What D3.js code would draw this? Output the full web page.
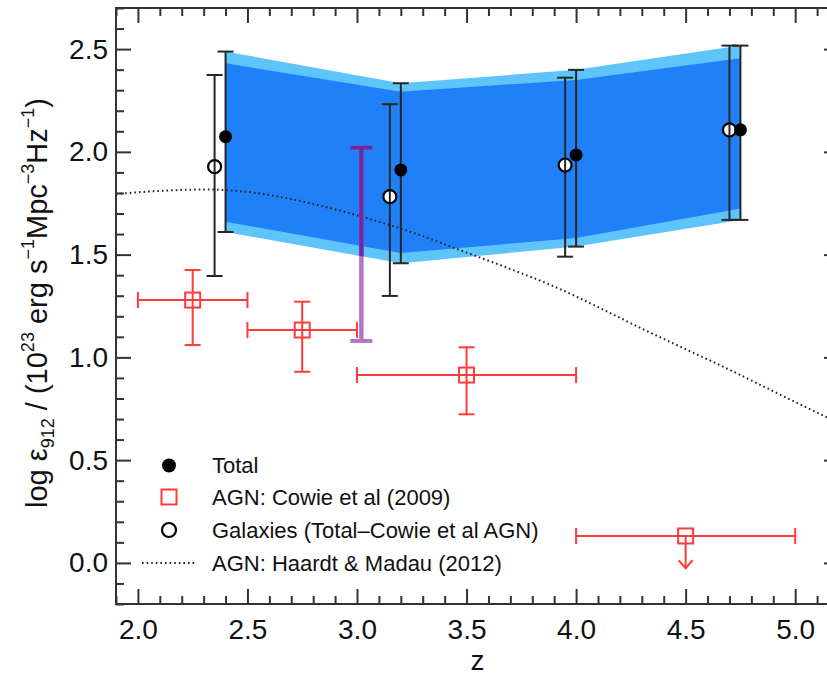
<!DOCTYPE html>
<html>
<head>
<meta charset="utf-8">
<script src="https://cdn.jsdelivr.net/npm/d3@7"></script>
<style>
  html, body { margin: 0; padding: 0; background: #fff; }
  svg { display: block; font-family: "Liberation Sans", Arial, Helvetica, sans-serif; }
</style>
</head>
<body>
<svg id="chart" width="827" height="675"></svg>
<script>
// ---------------- data ----------------
const xTickLabels = [2.0, 2.5, 3.0, 3.5, 4.0, 4.5, 5.0];
const yTickLabels = [0.0, 0.5, 1.0, 1.5, 2.0, 2.5];

// Total emissivity (filled circles)
const totalZ   = [2.4, 3.2, 4.0, 4.75];
const totalVal = [2.074, 1.912, 1.985, 2.107];
const totalLo  = [1.610, 1.458, 1.539, 1.669];
const totalHi  = [2.488, 2.334, 2.399, 2.517];

// Galaxies (open circles)
const galZ   = [2.35, 3.15, 3.95, 4.70];
const galVal = [1.928, 1.782, 1.936, 2.107];
const galLo  = [1.396, 1.299, 1.490, 1.669];
const galHi  = [2.374, 2.232, 2.361, 2.517];

// Shaded band (inner = dark, outer = light)
const bandZ   = [2.4, 3.2, 4.0, 4.75];
const innerHi = [2.431, 2.293, 2.350, 2.455];
const innerLo = [1.660, 1.508, 1.581, 1.725];
const outerHi = [2.488, 2.334, 2.399, 2.517];
const outerLo = [1.610, 1.458, 1.539, 1.669];

// AGN: Cowie et al (2009) (red squares)
const agnZ     = [2.25, 2.75, 3.5, 4.5];
const agnZlo   = [2.0, 2.5, 3.0, 4.0];
const agnZhi   = [2.5, 3.0, 4.0, 5.0];
const agnVal   = [1.279, 1.133, 0.914, 0.131];
const agnLo    = [1.060, 0.930, 0.723, -0.026];
const agnHi    = [1.425, 1.271, 1.049, 0.131];
const agnLimit = [false, false, false, true];

// Purple bar
const purpleZ  = [3.02];
const purpleLo = [1.08];
const purpleHi = [2.02];

// AGN: Haardt & Madau (2012) curve
const hmZ   = [1.9, 2.1, 2.3, 2.5, 2.7, 2.9, 3.1, 3.3, 3.5, 3.7, 3.9, 4.1, 4.3, 4.5, 4.7, 4.9, 5.2];
const hmVal = [1.795, 1.81, 1.817, 1.805, 1.77, 1.72, 1.66, 1.59, 1.51, 1.43, 1.345, 1.245, 1.14, 1.04, 0.94, 0.835, 0.68];

const legendLabels = ["Total", "AGN: Cowie et al (2009)", "Galaxies (Total\u2013Cowie et al AGN)", "AGN: Haardt & Madau (2012)"];

// ---------------- layout ----------------
const L = 116, R = 839, T = 8, B = 604;
const svg = d3.select("#chart");
const x = d3.scaleLinear().domain([1.9, 5.2]).range([L, R]);
const y = d3.scaleLinear().domain([-0.2, 2.7]).range([B, T]);

const RED = "#ff3b3b", DARKBLUE = "#1f80f8", LIGHTBLUE = "#5ec4fa", AX = "#333";

const plot = svg.append("g");

// clip to plot area
svg.append("defs").append("clipPath").attr("id", "plotclip")
  .append("rect").attr("x", L).attr("y", T).attr("width", R - L).attr("height", B - T);
plot.attr("clip-path", "url(#plotclip)");

// ---------------- band ----------------
function bandPath(lo, hi) {
  const pts = bandZ.map((z, i) => [x(z), y(hi[i])])
    .concat(bandZ.map((z, i) => [x(z), y(lo[i])]).reverse());
  return d3.line()(pts) + "Z";
}
plot.append("path").attr("d", bandPath(outerLo, outerHi)).attr("fill", LIGHTBLUE);
plot.append("path").attr("d", bandPath(innerLo, innerHi)).attr("fill", DARKBLUE);

svg.select("defs").append("clipPath").attr("id", "bandclip")
  .append("path").attr("d", bandPath(outerLo, outerHi));

// ---------------- Haardt & Madau curve ----------------
const hmLine = d3.line().x((d, i) => x(hmZ[i])).y(d => y(d)).curve(d3.curveMonotoneX);
plot.append("path").attr("d", hmLine(hmVal))
  .attr("fill", "none").attr("stroke", "#222").attr("stroke-width", 2)
  .attr("stroke-dasharray", "1.6,3");

// ---------------- purple bar ----------------
function purpleBar(g, color) {
  purpleZ.forEach((z, i) => {
    const px = x(z);
    g.append("line").attr("x1", px).attr("x2", px).attr("y1", y(purpleLo[i])).attr("y2", y(purpleHi[i]))
      .attr("stroke", color).attr("stroke-width", 4.5);
    [purpleLo[i], purpleHi[i]].forEach(v => {
      g.append("line").attr("x1", px - 11).attr("x2", px + 11).attr("y1", y(v)).attr("y2", y(v))
        .attr("stroke", color).attr("stroke-width", 4);
    });
  });
}
purpleBar(plot.append("g"), "#b575c6");
purpleBar(plot.append("g").attr("clip-path", "url(#bandclip)"), "#6e2aa0");

// ---------------- black error bars & circles ----------------
function vErr(g, xs, lo, hi, color, w, cap) {
  xs.forEach((z, i) => {
    const px = x(z);
    g.append("line").attr("x1", px).attr("x2", px).attr("y1", y(lo[i])).attr("y2", y(hi[i]))
      .attr("stroke", color).attr("stroke-width", w);
    [lo[i], hi[i]].forEach(v => {
      g.append("line").attr("x1", px - cap).attr("x2", px + cap).attr("y1", y(v)).attr("y2", y(v))
        .attr("stroke", color).attr("stroke-width", w);
    });
  });
}
const eb = plot.append("g");
vErr(eb, galZ, galLo, galHi, "#262626", 2, 8);
vErr(eb, totalZ, totalLo, totalHi, "#262626", 2, 8);

plot.append("g").selectAll("circle").data(galVal).join("circle")
  .attr("cx", (d, i) => x(galZ[i])).attr("cy", d => y(d)).attr("r", 6.5)
  .attr("fill", "#fff").attr("stroke", "#000").attr("stroke-width", 2.2);
// line through open circles
plot.append("g").selectAll("line").data(galVal).join("line")
  .attr("x1", (d, i) => x(galZ[i])).attr("x2", (d, i) => x(galZ[i]))
  .attr("y1", d => y(d) - 6).attr("y2", d => y(d) + 6)
  .attr("stroke", "#262626").attr("stroke-width", 2);
plot.append("g").selectAll("circle").data(totalVal).join("circle")
  .attr("cx", (d, i) => x(totalZ[i])).attr("cy", d => y(d)).attr("r", 6.5)
  .attr("fill", "#000");

// ---------------- red AGN points ----------------
const red = plot.append("g").attr("stroke", RED).attr("stroke-width", 2).attr("fill", "none");
agnZ.forEach((z, i) => {
  const px = x(z), py = y(agnVal[i]);
  // horizontal error
  red.append("line").attr("x1", x(agnZlo[i])).attr("x2", x(agnZhi[i])).attr("y1", py).attr("y2", py);
  [agnZlo[i], agnZhi[i]].forEach(v => {
    red.append("line").attr("x1", x(v)).attr("x2", x(v)).attr("y1", py - 8).attr("y2", py + 8);
  });
  if (!agnLimit[i]) {
    red.append("line").attr("x1", px).attr("x2", px).attr("y1", y(agnLo[i])).attr("y2", y(agnHi[i]));
    [agnLo[i], agnHi[i]].forEach(v => {
      red.append("line").attr("x1", px - 8).attr("x2", px + 8).attr("y1", y(v)).attr("y2", y(v));
    });
  } else {
    const ay = y(agnLo[i]);
    red.append("line").attr("x1", px).attr("x2", px).attr("y1", py).attr("y2", ay);
    red.append("path").attr("d", `M${px - 7},${ay - 8}L${px},${ay}L${px + 7},${ay - 8}`);
  }
  red.append("rect").attr("x", px - 7.5).attr("y", py - 7.5).attr("width", 15).attr("height", 15);
});

// ---------------- axes ----------------
const majorX = d3.range(2.0, 5.21, 0.5).map(v => +v.toFixed(2));
const minorX = d3.range(1.9, 5.21, 0.1).map(v => +v.toFixed(2)).filter(v => !majorX.some(m => Math.abs(m - v) < 1e-6));
const majorY = d3.range(0.0, 2.71, 0.5).map(v => +v.toFixed(2));
const minorY = d3.range(-0.2, 2.71, 0.1).map(v => +v.toFixed(2)).filter(v => !majorY.some(m => Math.abs(m - v) < 1e-6));

function styleAxis(g) {
  g.select(".domain").remove();
  g.selectAll(".tick line").attr("stroke", AX).attr("stroke-width", 2);
  g.selectAll(".tick text").attr("fill", "#111").attr("font-size", 28);
}
const fmt = d3.format(".1f");

svg.append("g").attr("transform", `translate(0,${B})`)
  .call(d3.axisBottom(x).tickValues(xTickLabels).tickSize(-15).tickPadding(15).tickFormat(fmt)).call(styleAxis);
svg.append("g").attr("transform", `translate(0,${B})`)
  .call(d3.axisBottom(x).tickValues(minorX).tickSize(-8).tickFormat("")).call(styleAxis);
svg.append("g").attr("transform", `translate(0,${T})`)
  .call(d3.axisTop(x).tickValues(majorX).tickSize(-15).tickFormat("")).call(styleAxis);
svg.append("g").attr("transform", `translate(0,${T})`)
  .call(d3.axisTop(x).tickValues(minorX).tickSize(-8).tickFormat("")).call(styleAxis);

svg.append("g").attr("transform", `translate(${L},0)`)
  .call(d3.axisLeft(y).tickValues(yTickLabels).tickSize(-15).tickPadding(8).tickFormat(fmt)).call(styleAxis);
svg.append("g").attr("transform", `translate(${L},0)`)
  .call(d3.axisLeft(y).tickValues(minorY).tickSize(-8).tickFormat("")).call(styleAxis);
svg.append("g").attr("transform", `translate(${R},0)`)
  .call(d3.axisRight(y).tickValues(majorY).tickSize(-15).tickFormat("")).call(styleAxis);
svg.append("g").attr("transform", `translate(${R},0)`)
  .call(d3.axisRight(y).tickValues(minorY).tickSize(-8).tickFormat("")).call(styleAxis);

svg.append("rect").attr("x", L).attr("y", T).attr("width", R - L).attr("height", B - T)
  .attr("fill", "none").attr("stroke", AX).attr("stroke-width", 2);

// axis titles
svg.append("text").attr("x", (L + R) / 2).attr("y", 670).attr("text-anchor", "middle")
  .attr("font-size", 28).attr("fill", "#111").text("z");

const yt = svg.append("text").attr("transform", `translate(47,303) rotate(-90)`)
  .attr("text-anchor", "middle").attr("font-size", 29).attr("fill", "#111");
yt.append("tspan").text("log \u03b5");
yt.append("tspan").attr("font-size", 18).attr("dy", 7).text("912");
yt.append("tspan").attr("dy", -7).text(" / (10");
yt.append("tspan").attr("font-size", 18).attr("dy", -13).text("23");
yt.append("tspan").attr("dy", 13).text(" erg s");
yt.append("tspan").attr("font-size", 18).attr("dy", -13).text("\u22121");
yt.append("tspan").attr("dy", 13).text("Mpc");
yt.append("tspan").attr("font-size", 18).attr("dy", -13).text("\u22123");
yt.append("tspan").attr("dy", 13).text("Hz");
yt.append("tspan").attr("font-size", 18).attr("dy", -13).text("\u22121");
yt.append("tspan").attr("dy", 13).text(")");

// ---------------- legend ----------------
const legY = [465.5, 497, 530, 563];
const legSymX = 169, legTextX = 212;
const lg = svg.append("g");
lg.append("circle").attr("cx", legSymX).attr("cy", legY[0]).attr("r", 7).attr("fill", "#000");
lg.append("rect").attr("x", legSymX - 7.5).attr("y", legY[1] - 7.5).attr("width", 15).attr("height", 15)
  .attr("fill", "none").attr("stroke", RED).attr("stroke-width", 2);
lg.append("circle").attr("cx", legSymX).attr("cy", legY[2]).attr("r", 7)
  .attr("fill", "none").attr("stroke", "#000").attr("stroke-width", 2.2);
lg.append("line").attr("x1", 142).attr("x2", 196).attr("y1", legY[3]).attr("y2", legY[3])
  .attr("stroke", "#222").attr("stroke-width", 2).attr("stroke-dasharray", "1.6,3");
lg.selectAll("text").data(legendLabels).join("text")
  .attr("x", legTextX).attr("y", (d, i) => legY[i]).attr("dy", "0.36em")
  .attr("font-size", 22).attr("fill", "#111").text(d => d);
</script>
</body>
</html>
